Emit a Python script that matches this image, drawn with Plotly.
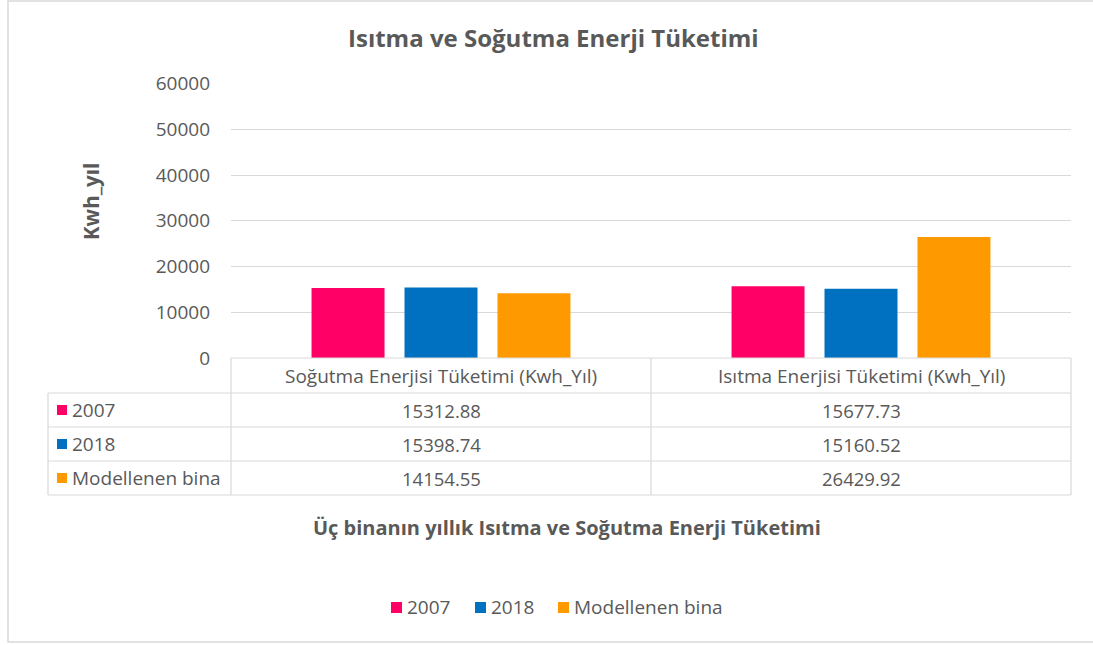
import plotly.graph_objects as go

# ---- data ----
categories = ["Soğutma Enerjisi Tüketimi (Kwh_Yıl)", "Isıtma Enerjisi Tüketimi (Kwh_Yıl)"]
series_names = ["2007", "2018", "Modellenen bina"]
values_2007 = [15312.88, 15677.73]
values_2018 = [15398.74, 15160.52]
values_model = [14154.55, 26429.92]
series_values = [values_2007, values_2018, values_model]
series_colors = ["#FF0066", "#0070C0", "#FF9900"]
y_ticks = [0, 10000, 20000, 30000, 40000, 50000, 60000]

chart_title = "Isıtma ve Soğutma Enerji Tüketimi"
y_title = "Kwh_yıl"
x_title = "Üç binanın yıllık Isıtma ve Soğutma Enerji Tüketimi"

# ---- layout helpers (pixel -> paper) ----
W, H = 1093, 645
FONT = "Open Sans"
TXT = "#595959"
GRID = "#D9D9D9"


def px(x):
    return x / W


def py(y):
    return 1 - y / H


PLOT_L, PLOT_R = 231, 1071
PLOT_T, PLOT_B = 83.5, 358
TAB_L = 48
ROW_H = 34
HEADER_B = 393
col_edges = [PLOT_L, 651, PLOT_R]

fig = go.Figure()
for name, vals, col in zip(series_names, series_values, series_colors):
    fig.add_trace(go.Bar(x=categories, y=vals, name=name, marker=dict(color=col, line=dict(width=0)),
                         showlegend=False))

shapes = []
annotations = []

# outer chart frame
shapes.append(dict(type="rect", xref="paper", yref="paper", x0=px(8), x1=px(1100), y0=py(642), y1=py(1),
                   line=dict(color=GRID, width=1.5), fillcolor="rgba(0,0,0,0)", layer="below"))

# data table grid
row_tops = [HEADER_B + i * ROW_H for i in range(len(series_names) + 1)]
shapes.append(dict(type="line", xref="paper", yref="paper", x0=px(PLOT_L), x1=px(PLOT_R),
                   y0=py(PLOT_B), y1=py(PLOT_B), line=dict(color=GRID, width=1.2)))
for yy in row_tops:
    shapes.append(dict(type="line", xref="paper", yref="paper", x0=px(TAB_L), x1=px(PLOT_R),
                       y0=py(yy), y1=py(yy), line=dict(color=GRID, width=1.2)))
tab_bottom = row_tops[-1]
shapes.append(dict(type="line", xref="paper", yref="paper", x0=px(TAB_L), x1=px(TAB_L),
                   y0=py(HEADER_B), y1=py(tab_bottom), line=dict(color=GRID, width=1.2)))
for xx in col_edges:
    shapes.append(dict(type="line", xref="paper", yref="paper", x0=px(xx), x1=px(xx),
                       y0=py(PLOT_B), y1=py(tab_bottom), line=dict(color=GRID, width=1.2)))

LABEL = 19
DIGITS = 18.5

# header cells
for i, cat in enumerate(categories):
    cx = (col_edges[i] + col_edges[i + 1]) / 2
    annotations.append(dict(text=cat, x=px(cx), y=py((PLOT_B + HEADER_B) / 2), xref="paper", yref="paper",
                            showarrow=False, xanchor="center", yanchor="middle",
                            font=dict(family=FONT, size=LABEL, color=TXT)))

# series rows
for r, (name, vals, col) in enumerate(zip(series_names, series_values, series_colors)):
    yc = row_tops[r] + ROW_H / 2
    shapes.append(dict(type="rect", xref="paper", yref="paper", x0=px(57), x1=px(67),
                       y0=py(yc + 5), y1=py(yc - 5), fillcolor=col, line=dict(width=0)))
    annotations.append(dict(text=name, x=px(70), y=py(yc), xref="paper", yref="paper", showarrow=False,
                            xanchor="left", yanchor="middle", font=dict(family=FONT, size=LABEL, color=TXT)))
    for i, v in enumerate(vals):
        cx = (col_edges[i] + col_edges[i + 1]) / 2
        annotations.append(dict(text=f"{v:.2f}", x=px(cx), y=py(yc), xref="paper", yref="paper",
                                showarrow=False, xanchor="center", yanchor="middle",
                                font=dict(family=FONT, size=DIGITS, color=TXT)))

# titles
annotations.append(dict(text=f"<b>{chart_title}</b>", x=px(553), y=py(38), xref="paper", yref="paper",
                        showarrow=False, xanchor="center", yanchor="middle",
                        font=dict(family=FONT, size=24, color=TXT)))
annotations.append(dict(text=f"<b>{y_title}</b>", x=px(91), y=py(202), xref="paper", yref="paper",
                        showarrow=False, xanchor="center", yanchor="middle", textangle=-90,
                        font=dict(family=FONT, size=20.5, color=TXT)))
annotations.append(dict(text=f"<b>{x_title}</b>", x=px(567), y=py(527), xref="paper", yref="paper",
                        showarrow=False, xanchor="center", yanchor="middle",
                        font=dict(family=FONT, size=20, color=TXT)))

# legend
legend_sq = [391, 475, 558]
for name, col, sx in zip(series_names, series_colors, legend_sq):
    shapes.append(dict(type="rect", xref="paper", yref="paper", x0=px(sx), x1=px(sx + 11),
                       y0=py(613), y1=py(602), fillcolor=col, line=dict(width=0)))
    annotations.append(dict(text=name, x=px(sx + 14), y=py(607), xref="paper", yref="paper",
                            showarrow=False, xanchor="left", yanchor="middle",
                            font=dict(family=FONT, size=LABEL, color=TXT)))

fig.update_layout(
    width=W, height=H,
    margin=dict(l=0, r=0, t=0, b=0, pad=0, autoexpand=False),
    paper_bgcolor="white", plot_bgcolor="white",
    barmode="group", bargap=0.336, bargroupgap=0.215,
    xaxis=dict(domain=[px(PLOT_L), px(PLOT_R)], showticklabels=False, showgrid=False,
               showline=False, zeroline=False, ticks="", automargin=False),
    yaxis=dict(domain=[py(PLOT_B), py(PLOT_T)], range=[0, 60000], tickvals=y_ticks,
               ticktext=[str(t) for t in y_ticks], showgrid=True, gridcolor=GRID, gridwidth=1.2,
               zeroline=False, showline=False, ticks="", ticklabelstandoff=20, automargin=False,
               tickfont=dict(family=FONT, size=19, color=TXT)),
    shapes=shapes,
    annotations=annotations,
    showlegend=False,
)

fig.write_html("out.html")
